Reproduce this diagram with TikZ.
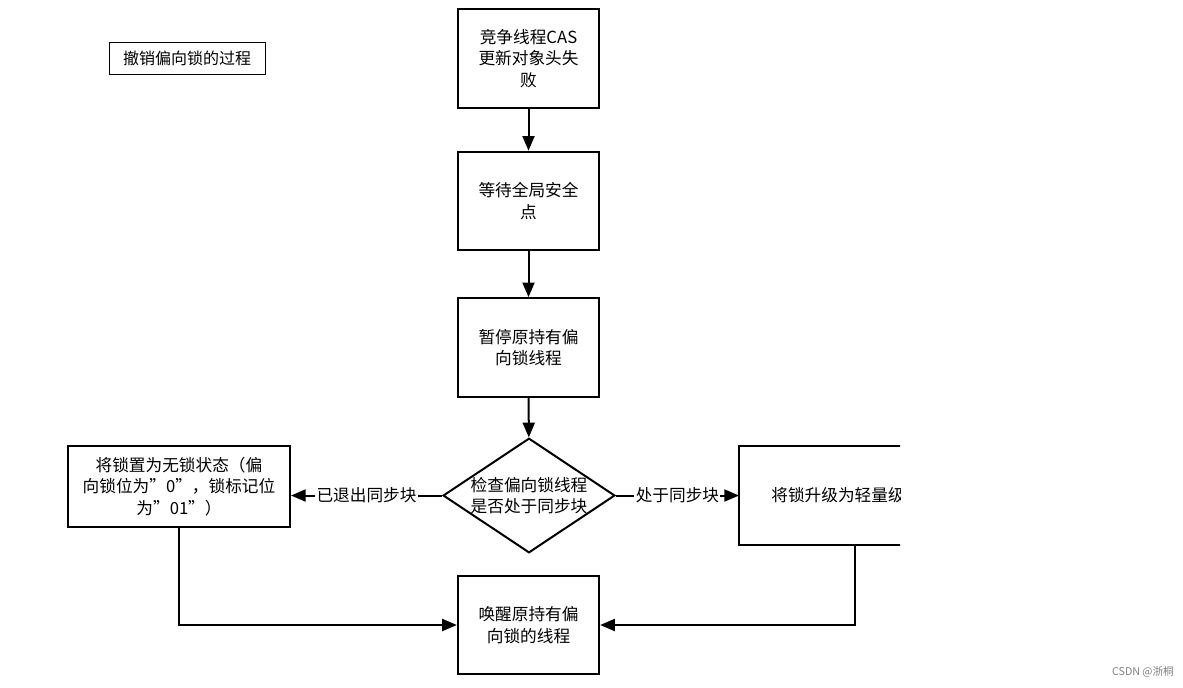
\documentclass[tikz,border=0pt]{standalone}
\usepackage{fontspec}
\setmainfont{Noto Sans CJK SC}
\usetikzlibrary{shapes.geometric,arrows.meta}
\begin{document}
\begin{tikzpicture}[x=0.75pt,y=-0.75pt,
  box/.style={draw,line width=1.5pt,align=center,font=\fontsize{12.5}{16}\selectfont,inner sep=0pt},
  arr/.style={line width=1.5pt,-{Triangle[length=11pt,width=9pt]}},
  lab/.style={fill=white,font=\fontsize{12.5}{15}\selectfont,inner sep=1pt}]
\useasboundingbox (0,0) rectangle (1183,687);
\node[draw,line width=0.6pt,minimum width=156pt*0.75,minimum height=32pt*0.75,font=\fontsize{12}{14}\selectfont] (t) at (187,58) {撤销偏向锁的过程};
\node[box,minimum width=106pt,minimum height=74pt] (b1) at (528.5,58.5) {竞争线程CAS\\更新对象头失\\败};
\node[box,minimum width=106pt,minimum height=74pt] (b2) at (528.5,201) {等待全局安全\\点};
\node[box,minimum width=106pt,minimum height=74pt] (b3) at (528.5,347.5) {暂停原持有偏\\向锁线程};
\node[box,draw,diamond,aspect=1.5,minimum width=124pt,minimum height=83pt] (d) at (529,495.5) {检查偏向锁线程\\是否处于同步块};
\node[box,minimum width=166.5pt,minimum height=61pt] (l) at (179,486.5) {将锁置为无锁状态（偏\\向锁位为"0"，锁标记位\\为"01"）};
\begin{scope}
\clip (730,430) rectangle (900,560);
\node[box,minimum width=166pt,minimum height=74pt,text width=166pt,align=left] (r) at (850,495.5) {\hspace{24pt}将锁升级为轻量级锁};
\end{scope}
\node[box,minimum width=106pt,minimum height=74pt] (b4) at (528.5,625) {唤醒原持有偏\\向锁的线程};
\draw[arr] (b1) -- (b2);
\draw[arr] (b2) -- (b3);
\draw[arr] (b3) -- (d);
\draw[arr] (d.west) -- node[lab]{已退出同步块} (l.east|-d.west);
\draw[arr] (d.east) -- node[lab]{处于同步块} (739,495.5);
\coordinate (lc) at (179,625);
\coordinate (rc) at (855,625);
\draw[arr] (l.south-|lc) -- (lc) -- (b4.west);
\draw[arr] (855,545.5) -- (rc) -- (b4.east);
\node[text=gray,font=\fontsize{8}{10}\selectfont] (w) at (1143,672) {CSDN @浙桐};
\end{tikzpicture}
\end{document}
